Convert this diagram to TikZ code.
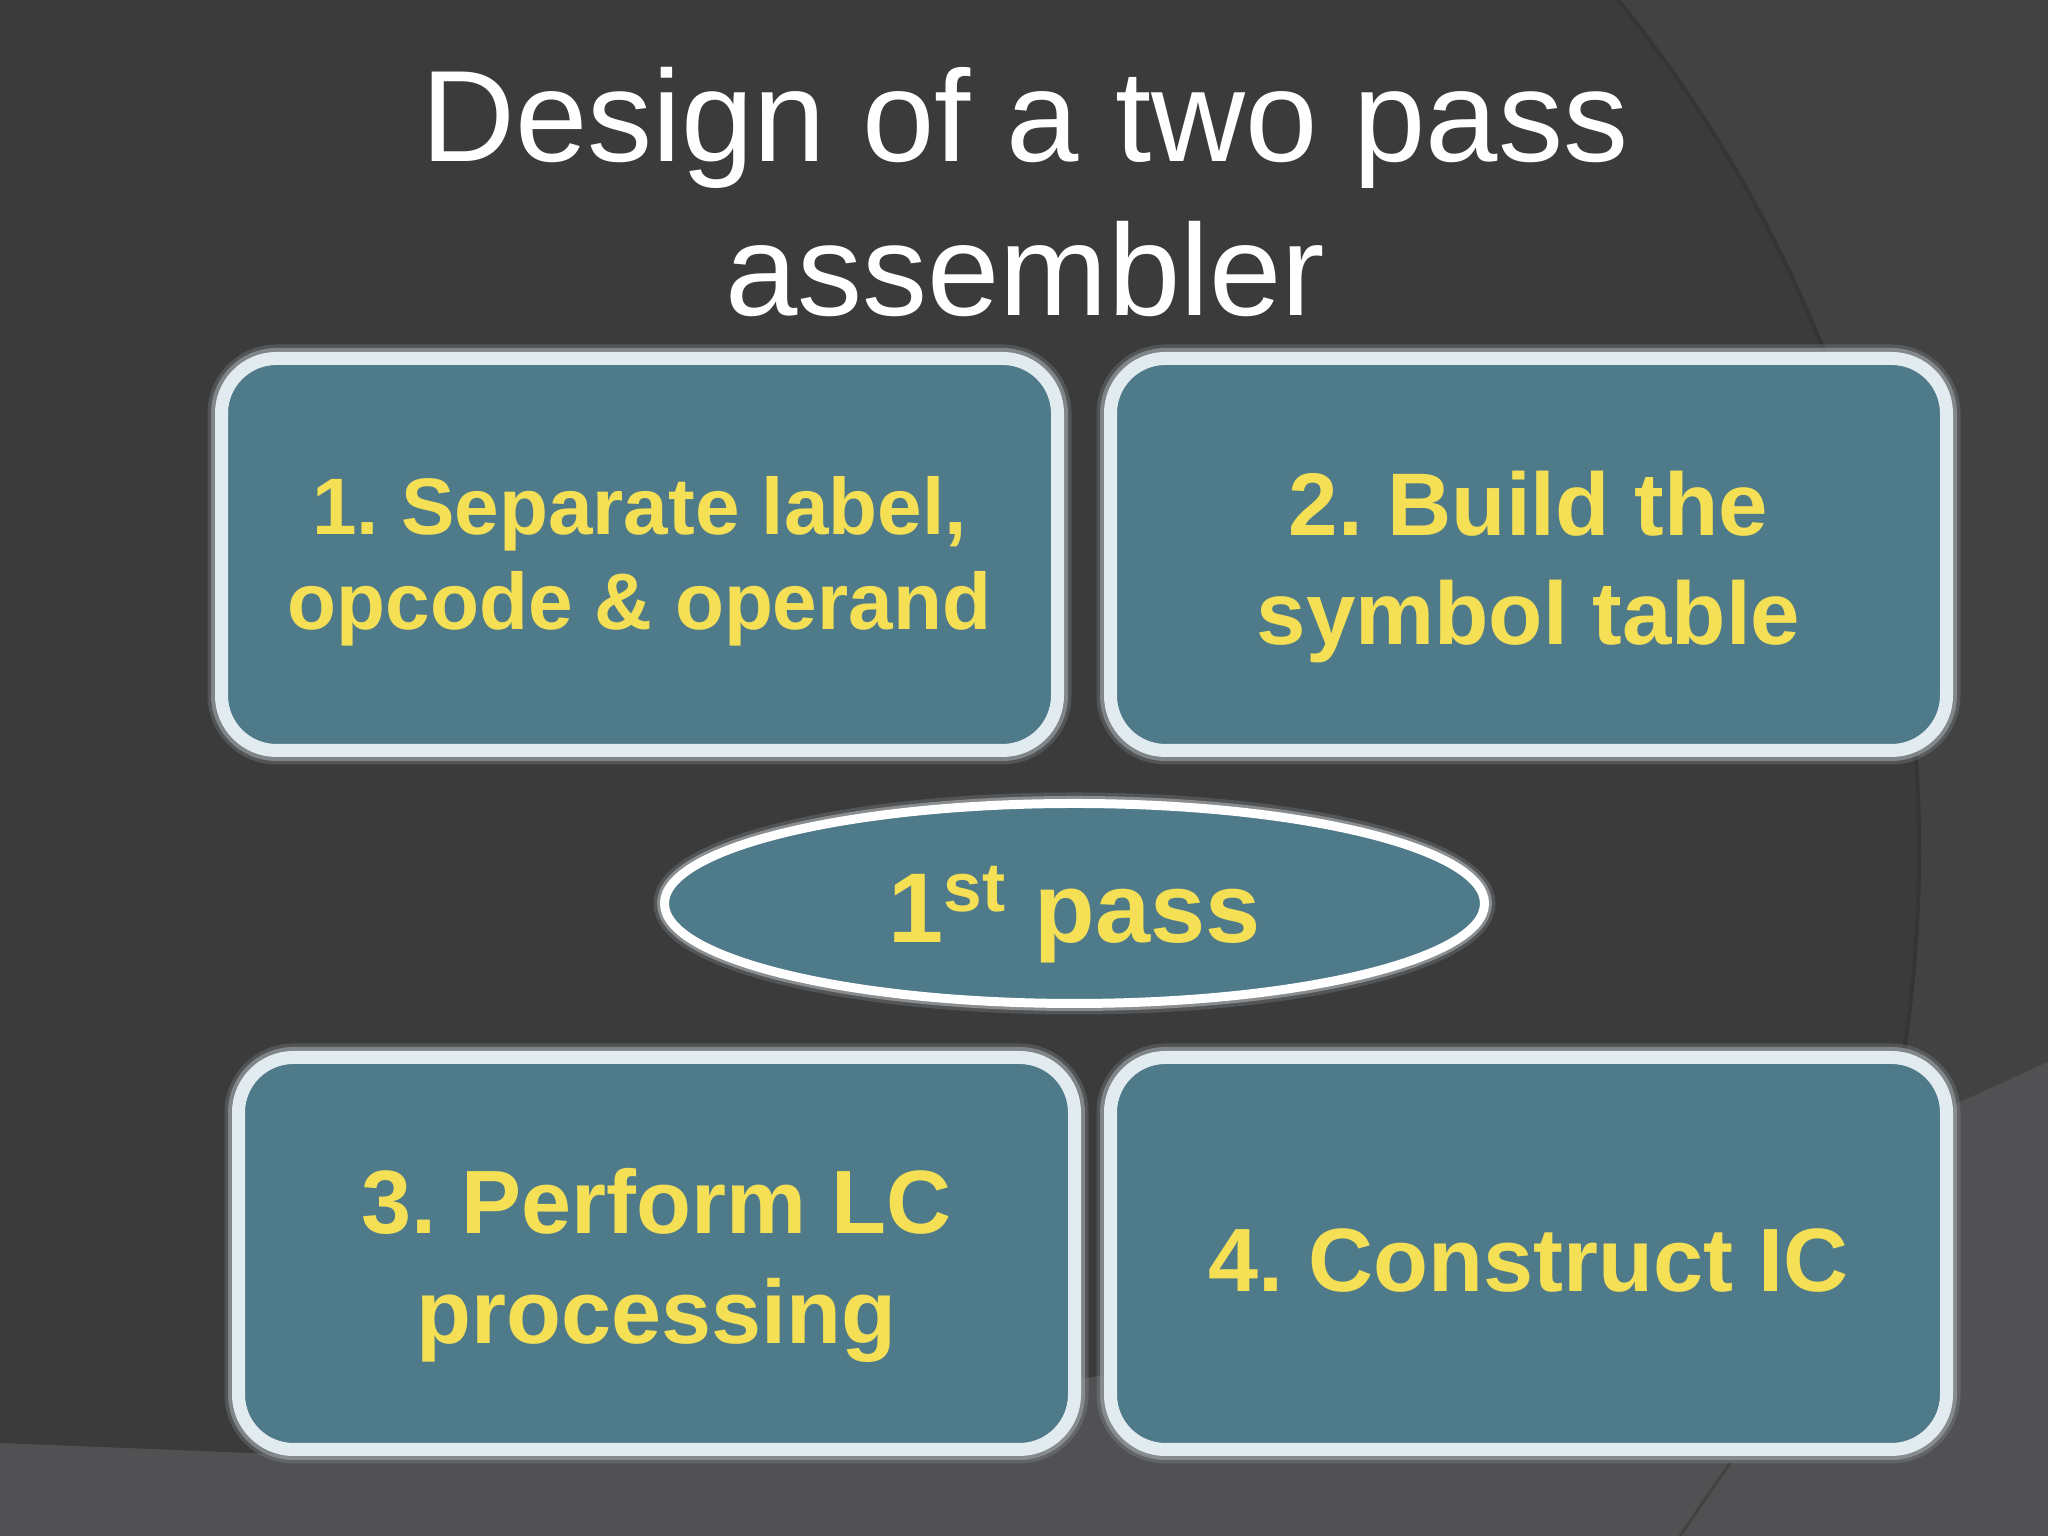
\documentclass[tikz,border=0pt]{standalone}
\usepackage{fontspec}
\setmainfont{Liberation Sans}
\usetikzlibrary{shapes.geometric}
\frenchspacing

\definecolor{bgdark}{HTML}{3B3B3C}
\definecolor{bgmid}{HTML}{424243}
\definecolor{bglight}{HTML}{515153}
\definecolor{arcshade}{HTML}{353536}
\definecolor{boxfill}{HTML}{4E7A8A}
\definecolor{boxrim}{HTML}{E2EBF0}
\definecolor{halo}{HTML}{9AA0A4}
\definecolor{stepyellow}{HTML}{F4DF55}

% invisible strut that pushes a box text down a little
\newcommand{\toppad}[1]{\rule{0pt}{#1em}}

\begin{document}
\begin{tikzpicture}[
    stepbox/.style={rectangle, rounded corners=0.55cm, fill=boxfill, draw=boxrim,
      line width=0.13cm, minimum width=8.36cm, minimum height=3.92cm, inner sep=0pt,
      text=stepyellow, align=center,
      preaction={draw=halo, line width=0.28cm, opacity=.25},
      preaction={draw=halo, line width=0.21cm, opacity=.65}},
    passoval/.style={ellipse, fill=boxfill, draw=white, line width=0.09cm,
      minimum width=8.2cm, minimum height=2.0cm, inner sep=0pt,
      text=stepyellow, align=center,
      preaction={draw=halo, line width=0.22cm, opacity=.25},
      preaction={draw=halo!80!white, line width=0.15cm, opacity=.6}},
    titletext/.style={text=white, align=center, inner sep=0pt,
      font=\fontsize{37}{43.8}\selectfont}
  ]

  \useasboundingbox (0,0) rectangle (20.48,15.36);

  % background
  \begin{scope}
    \clip (0,0) rectangle (20.48,15.36);
    \fill[bgdark] (0,0) rectangle (20.48,15.36);
    \fill[bgmid, even odd rule] (0,0) rectangle (20.48,15.36)
      (5.68,6.86) circle (13.53);
    \draw[arcshade, line width=0.04cm] (5.68,6.86) circle (13.51);
    \fill[bglight] (0,0.93) -- (3.0,0.81)
      .. controls (10.0,0.81) and (17.0,2.86) .. (19.6,4.34)
      -- (20.48,4.74) -- (20.48,0) -- (0,0) -- cycle;
    \draw[bgdark!70!bglight, line width=0.03cm] (17.3,0.73) -- (16.8,0);
  \end{scope}

  \node[titletext] (title) at (10.25,13.435) {Design of a two pass\\assembler};

  \begin{scope}[every node/.style={stepbox}]
    \node[font=\fontsize{22.8}{27}\selectfont\bfseries] (step1) at (6.395,9.815)
      {\toppad{0.9}1. Separate label,\\opcode \& operand};
    \node[font=\fontsize{25.3}{31}\selectfont\bfseries] (step2) at (15.285,9.815)
      {\toppad{1}2. Build the\\symbol table};
    \node[font=\fontsize{25.6}{31.3}\selectfont\bfseries] (step3) at (6.565,2.825)
      {\toppad{1}3. Perform LC\\processing};
    \node[font=\fontsize{25.6}{31.3}\selectfont\bfseries] (step4) at (15.285,2.825)
      {\toppad{0.85}4. Construct IC};
  \end{scope}

  \node[passoval, font=\fontsize{28.2}{34}\selectfont\bfseries] (pass) at (10.745,6.325)
    {\toppad{1}1\textsuperscript{st} pass};

\end{tikzpicture}
\end{document}
